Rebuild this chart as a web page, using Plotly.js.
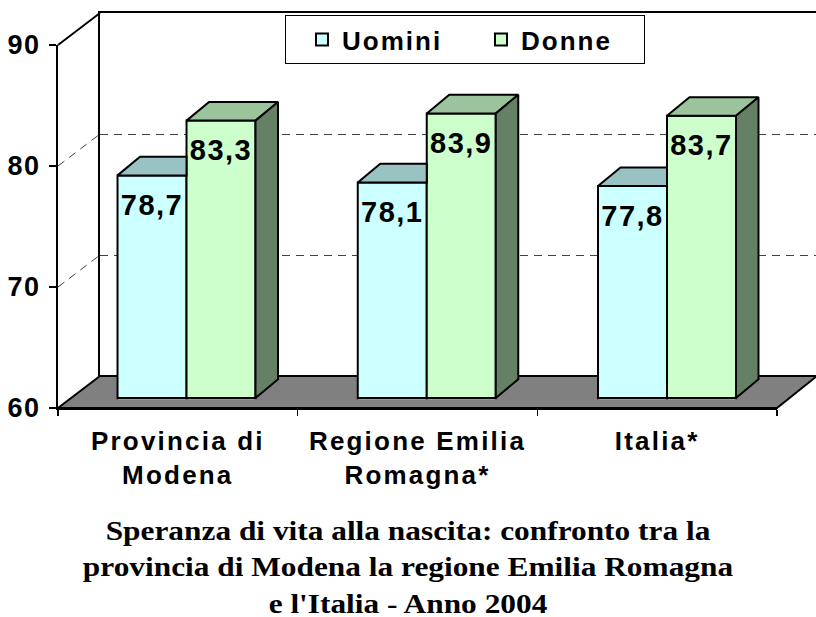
<!DOCTYPE html>
<html><head><meta charset="utf-8">
<script src="https://cdn.plot.ly/plotly-3.0.1.min.js"></script>
<style>
html,body{margin:0;padding:0;background:#fff;}
#chart{width:816px;height:617px;}
.x2tick text{letter-spacing:2.2px;}
.y2tick text{letter-spacing:1.5px;}
.legendtext{letter-spacing:2px;}
.textpoint text{letter-spacing:1.5px;}
.gtitle{transform:scaleX(1.12);transform-origin:408px 0px;}
</style></head><body><div id="chart"></div>
<script>
// ---------- data ----------
const categories = ['Provincia di Modena', 'Regione Emilia Romagna*', 'Italia*'];
const tickLabels = ['Provincia di<br>Modena', 'Regione Emilia<br>Romagna*', 'Italia*'];
const seriesNames = ['Uomini', 'Donne'];
const uomini = [78.7, 78.1, 77.8];
const donne = [83.3, 83.9, 83.7];
const yTicks = [60, 70, 80, 90];
const titleText = "Speranza di vita alla nascita: confronto tra la<br>provincia di Modena la regione Emilia Romagna<br>e l'Italia - Anno 2004";

// ---------- geometry / style ----------
const W = 816, H = 617;
const Y_MIN = 60, Y_MAX = 90;
const px = x => x / W;
const py = y => 1 - y / H;
const FRONT = {x0: 58, x1: 777, y60: 408, y90: 45};
const BACK = {x0: 100, y60: 376, y90: 13};
const BAR_PLANE = {x0: 66.4, x1: 787.1, floorPx: 398, pxPerUnit: 11.905};
const BAR_W = 0.2872;               // width of one bar, category units
const DEPTH_X = 0.0937, DEPTH_Y = 1.571; // 3D depth of bars in axis units
const SANS = 'Liberation Sans, Arial, sans-serif';
const SERIF = 'Liberation Serif, "Times New Roman", serif';
const C = {uFront: '#CCFFFF', uTop: '#99C2C2', dFront: '#CCFFCC', dTop: '#9CC49C', dSide: '#668066'};

const idx = categories.map((_, i) => i);
const fmt = v => v.toFixed(1).replace('.', ',');

function facePoly(values, xOff, kind) {
  const xs = [], ys = [];
  values.forEach((v, i) => {
    const xL = i + xOff, xR = xL + BAR_W;
    let pts;
    if (kind === 'topClipped') pts = [[xL, v], [xL + DEPTH_X, v + DEPTH_Y], [xR, v + DEPTH_Y], [xR, v]];
    else if (kind === 'top') pts = [[xL, v], [xL + DEPTH_X, v + DEPTH_Y], [xR + DEPTH_X, v + DEPTH_Y], [xR, v]];
    else pts = [[xR, Y_MIN], [xR + DEPTH_X, Y_MIN + DEPTH_Y], [xR + DEPTH_X, v + DEPTH_Y], [xR, v]];
    pts.push(pts[0]);
    pts.forEach(p => { xs.push(p[0]); ys.push(p[1]); });
    xs.push(null); ys.push(null);
  });
  return {x: xs, y: ys};
}

const faceStyle = (color) => ({
  type: 'scatter', mode: 'lines', fill: 'toself', fillcolor: color,
  line: {color: '#000', width: 2}, xaxis: 'x3', yaxis: 'y3',
  showlegend: false, hoverinfo: 'skip'
});

const bottomX = [], bottomY = [];
idx.forEach(i => { bottomX.push(i - BAR_W, i + BAR_W, null); bottomY.push(Y_MIN, Y_MIN, null); });

const labelFont = {family: SANS, size: 29, weight: 'bold', color: '#000'};

const traces = [
  {type: 'scatter', x: [], y: [], xaxis: 'x', yaxis: 'y', showlegend: false, hoverinfo: 'skip'},
  {type: 'scatter', x: [], y: [], xaxis: 'x2', yaxis: 'y2', showlegend: false, hoverinfo: 'skip'},
  {type: 'bar', name: seriesNames[0], x: idx, y: uomini, xaxis: 'x3', yaxis: 'y3',
   marker: {color: C.uFront, line: {color: '#000', width: 2}}},
  {type: 'bar', name: seriesNames[1], x: idx, y: donne, xaxis: 'x3', yaxis: 'y3',
   marker: {color: C.dFront, line: {color: '#000', width: 2}}},
  Object.assign(faceStyle(C.uTop), facePoly(uomini, -BAR_W, 'topClipped')),
  Object.assign(faceStyle(C.dTop), facePoly(donne, 0, 'top')),
  Object.assign(faceStyle(C.dSide), facePoly(donne, 0, 'side')),
  {type: 'scatter', mode: 'lines', x: bottomX, y: bottomY, xaxis: 'x3', yaxis: 'y3',
   line: {color: '#000', width: 2}, showlegend: false, hoverinfo: 'skip'},
  {type: 'scatter', mode: 'markers+text', x: idx.map(i => i - BAR_W / 2), y: uomini,
   text: uomini.map(fmt), textposition: 'bottom center', xaxis: 'x3', yaxis: 'y3',
   marker: {size: 27, opacity: 0}, textfont: labelFont, showlegend: false, hoverinfo: 'skip'},
  {type: 'scatter', mode: 'markers+text', x: idx.map(i => i + BAR_W / 2), y: donne,
   text: donne.map(fmt), textposition: 'bottom center', xaxis: 'x3', yaxis: 'y3',
   marker: {size: 27, opacity: 0}, textfont: labelFont, showlegend: false, hoverinfo: 'skip'}
];

const frontY = v => FRONT.y60 + (v - Y_MIN) / (Y_MAX - Y_MIN) * (FRONT.y90 - FRONT.y60);
const backY = v => BACK.y60 + (v - Y_MIN) / (Y_MAX - Y_MIN) * (BACK.y90 - BACK.y60);
const gridVals = yTicks.filter(v => v > Y_MIN && v < Y_MAX);

const shapes = [
  {type: 'path', xref: 'paper', yref: 'paper', layer: 'below',
   path: `M ${px(FRONT.x0)} ${py(FRONT.y60)} L ${px(BACK.x0)} ${py(BACK.y60)} L ${px(FRONT.x1 + (BACK.x0 - FRONT.x0) - 2)} ${py(BACK.y60)} L ${px(FRONT.x1)} ${py(FRONT.y60)} Z`,
   fillcolor: '#808080', line: {color: '#000', width: 2}},
  {type: 'line', xref: 'paper', yref: 'paper', layer: 'below',
   x0: px(FRONT.x0), y0: py(frontY(Y_MAX)), x1: px(BACK.x0), y1: py(backY(Y_MAX)),
   line: {color: '#000', width: 2}}
].concat(gridVals.map(v => ({
  type: 'line', xref: 'paper', yref: 'paper', layer: 'below',
  x0: px(FRONT.x0), y0: py(frontY(v)), x1: px(BACK.x0), y1: py(backY(v)),
  line: {color: '#404040', width: 1, dash: '8px,6px'}
})));

const yBarBottomPx = BAR_PLANE.floorPx + 0.1 * BAR_PLANE.pxPerUnit;
const yBarTopPx = BAR_PLANE.floorPx - (Y_MAX - Y_MIN) * BAR_PLANE.pxPerUnit;

const layout = {
  width: W, height: H,
  margin: {l: 0, r: 0, t: 0, b: 0},
  paper_bgcolor: '#fff', plot_bgcolor: 'rgba(0,0,0,0)',
  hovermode: false,
  barmode: 'group', bargap: 1 - 2 * BAR_W, bargroupgap: 0,
  font: {family: SANS, color: '#000'},
  title: {text: titleText, font: {family: SERIF, size: 28, weight: 'bold', color: '#000'},
          x: 0.5, xanchor: 'center', xref: 'paper', y: 1 - 540 / H, yref: 'container', yanchor: 'middle'},
  showlegend: true,
  legend: {orientation: 'h', x: px(285), y: py(15), xanchor: 'left', yanchor: 'top',
           bgcolor: '#fff', bordercolor: '#000', borderwidth: 1,
           font: {family: SANS, size: 26, weight: 'bold', color: '#000'},
           entrywidth: 118, indentation: 16, traceorder: 'normal'},
  xaxis: {domain: [px(BACK.x0), 1], range: [0, 1], anchor: 'y', side: 'top',
          showgrid: false, zeroline: false, showticklabels: false, ticks: '',
          showline: true, linewidth: 2, linecolor: '#000', fixedrange: true},
  yaxis: {domain: [py(BACK.y60), py(BACK.y90)], range: [Y_MIN, Y_MAX], anchor: 'x',
          tickmode: 'array', tickvals: gridVals, showticklabels: false, ticks: '',
          showgrid: true, gridcolor: '#404040', gridwidth: 1, griddash: '8px,6px',
          zeroline: false, showline: true, linewidth: 2, linecolor: '#000', fixedrange: true},
  xaxis2: {domain: [px(FRONT.x0), px(FRONT.x1)], range: [-0.5, categories.length - 0.5], anchor: 'y2',
           tickmode: 'array', tickvals: idx, ticktext: tickLabels, ticks: '',
           showline: true, linewidth: 2, linecolor: '#000', showgrid: false, zeroline: false,
           tickfont: {family: SANS, size: 26, weight: 'bold', color: '#000'}, ticklabelstandoff: 9,
           minor: {tickmode: 'array', tickvals: idx.map(i => i - 0.5).concat([categories.length - 0.5]),
                   ticks: 'outside', ticklen: 6, tickwidth: 1.5, tickcolor: '#000', showgrid: false},
           fixedrange: true},
  yaxis2: {domain: [py(FRONT.y60), py(FRONT.y90)], range: [Y_MIN, Y_MAX], anchor: 'x2',
           tickmode: 'array', tickvals: yTicks, ticks: 'outside', ticklen: 7, tickwidth: 1.5, tickcolor: '#000',
           showline: true, linewidth: 2, linecolor: '#000', showgrid: false, zeroline: false,
           tickfont: {family: SANS, size: 27, weight: 'bold', color: '#000'}, ticklabelstandoff: 3,
           fixedrange: true},
  xaxis3: {domain: [px(BAR_PLANE.x0), px(BAR_PLANE.x1)], range: [-0.5, categories.length - 0.5],
           anchor: 'y3', visible: false, fixedrange: true},
  yaxis3: {domain: [py(yBarBottomPx), py(yBarTopPx)], range: [Y_MIN - 0.1, Y_MAX],
           anchor: 'x3', visible: false, fixedrange: true},
  shapes: shapes
};

Plotly.newPlot('chart', traces, layout, {displayModeBar: false, staticPlot: true});
</script></body></html>
